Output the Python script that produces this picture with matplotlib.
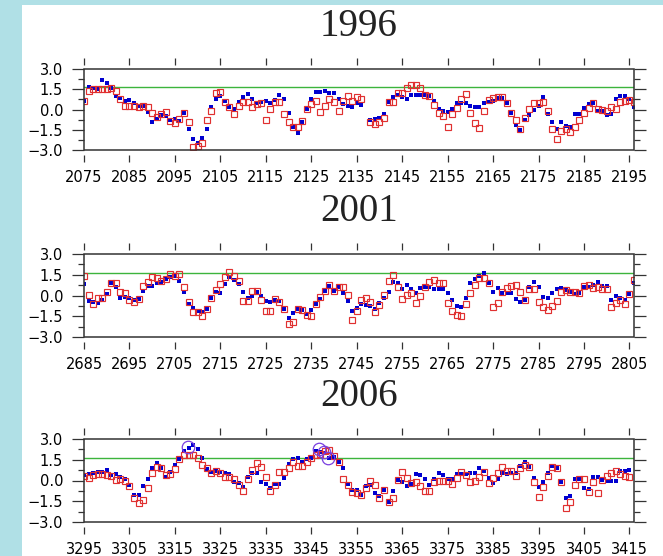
import numpy as np
import matplotlib
matplotlib.use("Agg")
import matplotlib.pyplot as plt
from matplotlib.patches import Rectangle
from matplotlib.ticker import MultipleLocator, FixedLocator, FuncFormatter

nan = np.nan

titles = ["1996", "2001", "2006"]
x_starts = [2075, 2685, 3295]
threshold = 1.65

blue_1996 = [0.63, 1.69, 1.59, 1.54, 2.19, 1.94, 1.59, 1.00, 0.88, 0.65,
             0.70, 0.51, 0.26, 0.28, -0.21, -0.90, -0.70, -0.43, -0.46, -0.78,
             -0.68, -0.83, -0.28, -1.44, -2.19, -2.50, -2.09, -1.44, 0.21, 0.78,
             1.00, 0.60, 0.21, 0.01, 0.56, 0.95, 1.17, 0.75, 0.46, 0.53,
             0.65, 0.51, 0.70, 1.05, 0.78, -0.23, -1.27, -1.72, -0.95, 0.04,
             0.80, 1.30, 1.27, 1.37, 1.22, 1.22, 0.75, 0.43, 0.23, 0.19,
             0.48, 0.33, nan, -0.78, -0.73, -0.65, -0.33, 0.56, 0.90, 1.10,
             0.95, 0.80, 1.07, 1.07, 1.07, 1.07, 0.99, 0.60, 0.01, -0.09,
             -0.21, 0.06, 0.51, 0.51, 0.46, 0.28, 0.21, 0.21, 0.46, 0.58,
             0.60, 0.83, 0.83, 0.51, -0.23, -1.15, -1.50, -0.78, -0.41, -0.04,
             0.26, 0.95, -0.33, -0.95, -1.47, -0.95, -1.20, -1.30, -0.33, -0.33,
             0.14, 0.38, 0.46, -0.09, -0.09, -0.41, -0.33, 0.75, 1.00, 1.00,
             0.75, 0.20]
red_1996 = [0.63, 1.40, 1.49, 1.49, 1.49, 1.49, 1.59, 1.37, 0.80, 0.28,
            0.28, 0.28, 0.19, 0.28, 0.19, -0.26, -0.58, -0.33, -0.16, -0.85,
            -1.00, -0.73, -0.28, -0.93, -2.80, -2.70, -2.46, -0.80, -0.14, 1.20,
            1.27, 0.55, 0.21, -0.36, 0.28, 0.53, 0.53, 0.19, 0.38, 0.46,
            -0.78, 0.06, 0.53, 0.53, -0.36, -0.95, -1.27, -1.32, -0.85, 0.04,
            0.38, 0.63, -0.19, 0.26, 0.78, 0.58, -0.11, 0.63, 1.00, 0.60,
            0.93, 0.75, nan, -0.95, -1.10, -0.90, -0.60, 0.55, 0.55, 1.20,
            1.20, 1.57, 1.80, 1.85, 1.59, 1.07, 0.99, 0.33, -0.23, -0.48,
            -1.32, -0.33, 0.14, 0.80, 1.12, -0.23, -1.02, -1.40, -0.09, 0.70,
            0.83, 0.95, 0.95, 0.51, -0.23, -0.78, -1.47, -0.65, 0.01, 0.46,
            0.51, 0.58, -0.11, -1.47, -2.18, -1.57, -1.45, -1.64, -1.27, -0.78,
            -0.23, 0.14, 0.46, 0.04, -0.04, -0.09, 0.21, 0.01, 0.58, 0.63,
            0.70, 0.55]

blue_2001 = [0.82, -0.39, -0.48, -0.53, -0.34, 0.10, 0.87, 0.58, -0.15, -0.10,
             -0.19, -0.29, -0.22, 0.34, 0.68, 0.68, 0.87, 0.99, 1.21, 1.35,
             1.40, 1.06, 0.24, -0.63, -0.87, -1.11, -1.16, -0.99, -0.17, 0.22,
             0.19, 0.85, 1.35, 1.11, 0.82, 0.27, -0.17, -0.05, 0.24, 0.00,
             -0.39, -0.46, -0.29, -0.40, -0.99, -1.60, -1.26, -0.97, -1.06, -1.31,
             -1.06, -0.63, -0.27, 0.34, 0.70, 0.34, 0.58, 0.17, -0.41, -1.14,
             -0.90, -0.63, -0.70, -0.75, -0.94, -0.51, -0.15, 0.27, 0.94, 0.92,
             0.46, 0.73, 0.44, 0.19, 0.56, 0.63, 0.58, 0.48, 0.48, 0.46,
             0.15, -0.34, -0.75, -0.82, -0.15, 0.92, 1.21, 1.40, 1.62, 0.92,
             0.27, 0.56, 0.15, 0.19, 0.19, -0.22, -0.46, -0.34, 0.63, 0.99,
             0.58, -0.10, -0.15, 0.15, 0.46, 0.56, 0.39, 0.22, 0.10, 0.19,
             0.58, 0.63, 0.75, 0.99, 0.68, 0.70, -0.34, -0.05, -0.17, -0.34,
             0.10, 0.92]
red_2001 = [1.40, 0.07, -0.63, -0.15, -0.15, 0.24, 0.87, 0.87, 0.27, 0.15,
            -0.34, -0.46, -0.22, 0.70, 0.99, 1.31, 1.23, 1.06, 1.21, 1.52,
            1.40, 1.52, 0.58, -0.46, -1.16, -1.16, -1.48, -0.99, -0.17, 0.41,
            0.80, 1.35, 1.69, 1.40, 1.06, -0.41, -0.39, 0.31, 0.31, -0.34,
            -1.14, -1.09, -0.22, -0.46, -0.99, -2.08, -1.89, -0.97, -1.06, -1.43,
            -1.48, -0.63, -0.10, 0.34, 0.75, 0.34, 0.58, 0.58, 0.02, -1.79,
            -1.11, -0.34, -0.15, -0.48, -1.19, -0.70, 0.02, 1.04, 1.48, 0.63,
            -0.22, 0.07, 0.19, -0.53, -0.02, 0.63, 0.99, 1.11, 0.87, 0.87,
            -0.51, -1.14, -1.43, -1.50, -0.63, 0.15, 0.75, 1.23, 1.23, 0.92,
            -0.82, -0.53, 0.27, 0.56, 0.70, 0.77, 0.22, -0.29, 0.46, 0.44,
            -0.46, -0.82, -1.06, -0.75, -0.41, 0.27, 0.39, 0.22, 0.22, 0.19,
            0.68, 0.75, 0.56, 0.63, 0.44, 0.44, -0.82, -0.53, -0.34, -0.58,
            0.10, 1.11]

blue_2006 = [0.40, 0.50, 0.57, 0.64, 0.59, 0.74, 0.40, 0.45, 0.28, 0.11,
             -0.33, -1.06, -1.06, -0.40, 0.11, 0.89, 1.25, 0.89, 0.28, 0.59,
             1.13, 1.57, 2.15, 2.34, 2.58, 2.29, 1.61, 0.80, 0.64, 0.69,
             0.59, 0.52, 0.47, -0.08, -0.21, -0.45, 0.23, 0.52, 0.55, -0.08,
             -0.28, -0.57, -0.28, -0.28, 0.21, 1.18, 1.54, 1.61, 1.37, 1.54,
             1.61, 2.10, 2.05, 1.98, 1.66, 1.69, 1.37, 0.89, -0.28, -0.70,
             -0.66, -1.06, -0.40, -0.33, -0.89, -1.13, -0.69, -1.59, -0.76, 0.04,
             -0.08, -0.40, -0.28, 0.45, 0.40, 0.08, -0.33, 0.08, 0.57, 0.40,
             0.08, 0.11, 0.45, 0.45, 0.47, 0.57, 0.57, 0.93, 0.69, 0.21,
             -0.21, 0.08, 0.57, 0.47, 0.57, 0.57, 1.08, 1.37, 1.01, 0.16,
             -0.45, -0.13, 0.52, 1.08, 0.93, -0.13, -1.23, -1.11, 0.08, 0.08,
             -0.57, -0.64, 0.23, 0.23, 0.04, 0.00, -0.01, 0.00, 0.72, 0.72,
             0.76, nan]
red_2006 = [0.35, 0.21, 0.40, 0.45, 0.45, 0.40, 0.35, 0.04, 0.08, -0.04,
            -0.40, -1.25, -1.61, -1.42, -0.57, 0.52, 1.01, 0.89, 0.40, 0.50,
            0.81, 1.57, 1.81, 1.86, 1.81, 1.61, 1.13, 0.93, 0.57, 0.69,
            0.57, 0.28, 0.28, 0.11, -0.33, -0.74, 0.11, 0.76, 1.25, 1.01,
            0.23, -0.76, -0.33, 0.64, 0.64, 0.93, 1.32, 1.08, 1.08, 1.37,
            1.61, 1.86, 1.93, 2.10, 2.22, 1.78, 1.37, 0.11, -0.33, -0.81,
            -0.93, -1.06, -0.52, -0.01, -0.33, -1.25, -0.69, -1.59, -1.25, 0.04,
            0.59, 0.21, -0.21, -0.08, -0.40, -0.74, -0.74, -0.13, -0.04, -0.04,
            -0.04, -0.25, 0.21, 0.64, 0.40, -0.08, -0.01, 0.28, 0.64, -0.16,
            0.21, 0.52, 1.01, 0.72, 0.72, 0.33, 0.89, 1.13, 1.01, -0.08,
            -1.20, -0.45, 0.35, 0.96, 0.93, -0.13, -1.98, -1.54, -0.33, 0.08,
            0.08, -0.81, -0.13, -0.89, 0.04, 0.35, 0.52, 0.72, 0.45, 0.35,
            0.28, nan]

circle_x_2006 = [3317.8, 3346.7, 3347.9, 3348.6]
circle_y_2006 = [2.39, 2.27, 2.08, 1.63]

blues = [blue_1996, blue_2001, blue_2006]
reds = [red_1996, red_2001, red_2006]

W, H = 663, 556
fig = plt.figure(figsize=(W / 100, H / 100), dpi=100)
fig.patch.set_facecolor("#b0e0e6")
fig.add_artist(Rectangle((22 / W, 0), 1 - 22 / W, 1 - 5 / H, transform=fig.transFigure,
                         facecolor="white", edgecolor="none", zorder=0))

left_px, right_px = 84, 634
tops = [69, 254, 439]
bottoms = [150, 337, 522]


def fmt(v, pos):
    return ("%.1f" % v).replace("-", "\u2212")


for i in range(3):
    ax = fig.add_axes([left_px / W, 1 - bottoms[i] / H,
                       (right_px - left_px) / W, (bottoms[i] - tops[i]) / H])
    ax.set_facecolor("none")
    x0 = x_starts[i]
    x = np.arange(x0, x0 + len(blues[i]))
    ax.axhline(threshold, color="#3cb43c", lw=1.0, zorder=1)
    ax.plot(x, blues[i], ls="none", marker="s", ms=3.1, mfc="#0000d0",
            mec="#0000d0", mew=0, zorder=3)
    ax.plot(x, reds[i], ls="none", marker="s", ms=3.7, mfc="none",
            mec="#e03030", mew=0.85, zorder=4)
    if i == 2:
        ax.plot(circle_x_2006, circle_y_2006, ls="none", marker="o", ms=9,
                mfc="none", mec="#7a3ee0", mew=0.9, zorder=5)
    ax.set_xlim(x0, x0 + 121)
    ax.set_ylim(-3, 3)
    ax.xaxis.set_major_locator(FixedLocator(np.arange(x0, x0 + 121, 10)))
    ax.yaxis.set_major_locator(MultipleLocator(1.5))
    ax.yaxis.set_minor_locator(MultipleLocator(0.75))
    ax.yaxis.set_major_formatter(FuncFormatter(fmt))
    for s in ax.spines.values():
        s.set_visible(False)
    ax.spines["top"].set_position(("outward", 3.0))
    ax.spines["bottom"].set_position(("outward", 3.5))
    ax.add_patch(Rectangle((0, 0), 1, 1, transform=ax.transAxes, fill=False,
                           edgecolor="#333333", lw=1.1, clip_on=False, zorder=6))
    ax.tick_params(axis="x", which="both", direction="out", length=5, width=0.9,
                   color="#333333", top=True, bottom=True, labeltop=False,
                   pad=6, labelsize=10.5)
    ax.tick_params(axis="y", which="major", direction="out", length=8.6, width=0.9,
                   color="#333333", left=True, right=True, labelright=False,
                   pad=6.5, labelsize=10.5)
    ax.tick_params(axis="y", which="minor", direction="out", length=4.3, width=0.9,
                   color="#333333", left=True, right=True)
    for lab in ax.get_xticklabels() + ax.get_yticklabels():
        lab.set_family("DejaVu Sans")
    fig.text((left_px + right_px) / 2 / W, 1 - (tops[i] - 33) / H, titles[i],
             ha="center", va="baseline", fontsize=28, family="Liberation Serif",
             color="#222222")

fig.savefig("out.png", dpi=100, facecolor=fig.get_facecolor())
